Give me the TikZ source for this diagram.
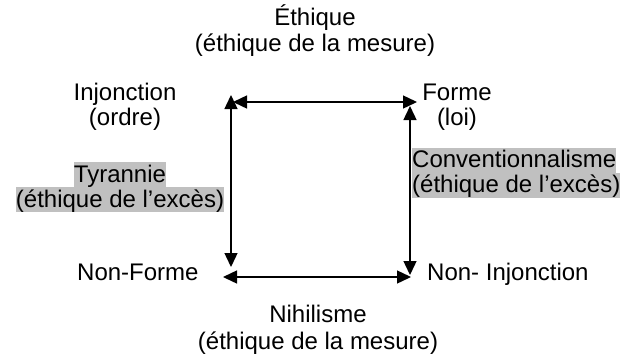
\documentclass[tikz,border=0pt]{standalone}
\usepackage{fontspec}
\setmainfont{Liberation Sans}
\usetikzlibrary{arrows.meta}
\definecolor{hlgray}{RGB}{192,192,192}
% grey highlight behind one line of text, full line height
\newcommand{\hlline}[1]{{\setlength{\fboxsep}{0pt}\colorbox{hlgray}{\rule[-5pt]{0pt}{25pt}#1}}}
\begin{document}
\begin{tikzpicture}[x=1pt,y=-1pt,
  lbl/.style={font=\fontsize{24}{25}\selectfont, align=center, inner sep=0pt},
  lblleft/.style={lbl, align=left},
  link/.style={line width=1.4pt,
    {Triangle[length=14pt,width=13pt]}-{Triangle[length=14pt,width=13pt]}}]
\useasboundingbox (0,0) rectangle (621,354);

% labels
\node[lbl] (ethique) at (315,31.5) {\strut Éthique\\(éthique de la mesure)\strut};
\node[lbl] (injonction) at (125,107.5) {\strut Injonction\\(ordre)\strut};
\node[lbl] (forme) at (457,107.5) {\strut Forme\\(loi)\strut};
\node[lbl] (tyrannie) at (120,187) {\hlline{Tyrannie}\\\hlline{(éthique de l’excès)}};
\node[lblleft, anchor=west] (conv) at (412,172.5) {\hlline{Conventionnalisme}\\\hlline{(éthique de l’excès)}};
\node[lbl, anchor=west] (nonforme) at (77,275) {\strut Non-Forme};
\node[lbl, anchor=west] (noninj) at (427,275) {\strut Non- Injonction};
\node[lbl] (nihilisme) at (318,331) {\strut Nihilisme\\(éthique de la mesure)\strut};

% arrow end points of the square
\coordinate (toplft) at (233,102);
\coordinate (toprgt) at (417,102);
\coordinate (lfttop) at (231,95);
\coordinate (lftbot) at (231,267);
\coordinate (rgttop) at (410,106);
\coordinate (rgtbot) at (410,275);
\coordinate (botlft) at (223,277);
\coordinate (botrgt) at (411,277);

\draw[link] (toplft) -- (toprgt);
\draw[link] (lfttop) -- (lftbot);
\draw[link] (rgttop) -- (rgtbot);
\draw[link] (botlft) -- (botrgt);
\end{tikzpicture}
\end{document}
